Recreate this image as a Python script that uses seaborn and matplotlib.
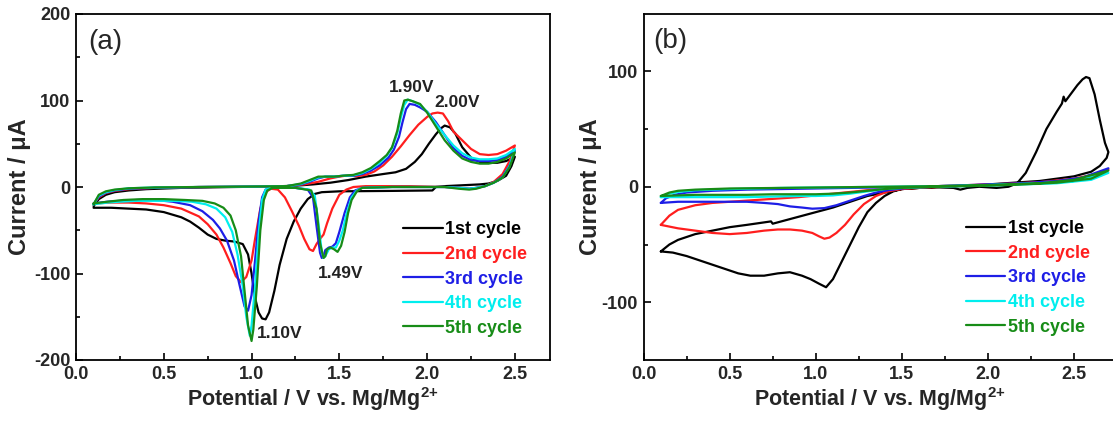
import numpy as np
import matplotlib
matplotlib.use("Agg")
import matplotlib.pyplot as plt
from matplotlib.ticker import FormatStrFormatter
import seaborn as sns

# ---------------- data: panel (a) ----------------
A1_E = [0.10, 0.13, 0.17, 0.22, 0.30, 0.40, 0.60, 0.90, 1.10, 1.25, 1.35, 1.45, 1.55, 1.65, 1.75, 1.82, 1.88, 1.93, 1.97, 2.01, 2.05, 2.08, 2.10, 2.13, 2.16, 2.20, 2.25, 2.30, 2.35, 2.40, 2.45, 2.50,
        2.48, 2.45, 2.40, 2.35, 2.30, 2.20, 2.10, 2.05, 2.03, 1.80, 1.50, 1.40, 1.36, 1.32, 1.28, 1.24, 1.20, 1.16, 1.13, 1.10, 1.08, 1.06, 1.04, 1.02, 1.00, 0.98, 0.95, 0.90, 0.85, 0.80, 0.75, 0.70, 0.65, 0.60, 0.50, 0.40, 0.30, 0.20, 0.10]
A1_I = [-22, -14, -9, -6, -4, -2.5, -1, 0, 0.5, 1.5, 3, 5, 8, 12, 15, 17, 21, 29, 38, 50, 61, 68, 71, 69, 62, 46, 34, 29, 28, 28, 30, 35,
        24, 13, 7, 4, 3, 2, 1, 0, -4, -4.5, -5, -6, -8, -14, -25, -40, -60, -90, -120, -145, -153, -152, -145, -128, -100, -78, -66, -63, -62, -60, -55, -47, -40, -35, -29, -26, -25, -24, -24]

A2_E = [0.10, 0.13, 0.17, 0.22, 0.30, 0.45, 0.70, 1.00, 1.20, 1.30, 1.38, 1.45, 1.50, 1.55, 1.60, 1.65, 1.70, 1.75, 1.80, 1.85, 1.90, 1.95, 2.00, 2.03, 2.06, 2.09, 2.12, 2.15, 2.20, 2.25, 2.30, 2.35, 2.40, 2.45, 2.50,
        2.47, 2.43, 2.38, 2.33, 2.28, 2.24, 2.18, 2.10, 1.90, 1.65, 1.58, 1.54, 1.50, 1.46, 1.43, 1.41, 1.39, 1.37, 1.35, 1.33, 1.30, 1.27, 1.23, 1.19, 1.15, 1.11, 1.08, 1.05, 1.02, 1.00, 0.97, 0.94, 0.91, 0.88, 0.84, 0.80, 0.75, 0.70, 0.60, 0.50, 0.40, 0.30, 0.20, 0.10]
A2_I = [-20, -12, -7, -4.5, -2.5, -1, 0, 0.5, 1, 3, 6, 10, 12, 13.5, 12.5, 14, 18, 25, 35, 47, 60, 72, 81, 85, 86, 85, 76, 64, 54, 44, 38, 37, 38, 42, 48,
        30, 15, 6, 1, -1, -2, -1, 0, 1, 1, 0, -3, -9, -25, -42, -55, -60, -66, -74, -72, -60, -45, -28, -12, -3, -2, -6, -25, -60, -85, -104, -110, -103, -88, -70, -55, -43, -34, -25, -21, -19, -18, -18, -19]

A3_E = [0.10, 0.13, 0.17, 0.22, 0.30, 0.45, 0.70, 1.00, 1.20, 1.28, 1.33, 1.38, 1.42, 1.47, 1.52, 1.58, 1.63, 1.68, 1.73, 1.78, 1.81, 1.84, 1.86, 1.88, 1.90, 1.93, 1.96, 2.00, 2.05, 2.10, 2.15, 2.20, 2.25, 2.30, 2.35, 2.40, 2.45, 2.50,
        2.47, 2.43, 2.38, 2.33, 2.28, 2.24, 2.18, 2.10, 1.80, 1.63, 1.59, 1.56, 1.53, 1.50, 1.48, 1.46, 1.44, 1.42, 1.41, 1.40, 1.39, 1.37, 1.35, 1.32, 1.25, 1.12, 1.08, 1.06, 1.04, 1.02, 1.00, 0.98, 0.96, 0.93, 0.90, 0.86, 0.82, 0.78, 0.72, 0.65, 0.55, 0.45, 0.35, 0.25, 0.18, 0.10]
A3_I = [-20, -11, -6.5, -4, -2, -1, 0, 0.5, 1, 3, 6, 10, 12, 12, 13, 13, 15, 19, 25, 34, 43, 58, 75, 90, 96, 95, 92, 87, 75, 60, 45, 36, 31, 30, 30, 31, 35, 42,
        25, 12, 5, 1, -1, -2, -1, 0, 0, -1, -4, -12, -30, -52, -65, -69, -70, -73, -80, -82, -76, -45, -12, -3, -1, -1, -3, -12, -40, -85, -125, -143, -138, -112, -85, -62, -48, -38, -28, -21, -17, -15, -15, -16, -17, -19]

A4_E = [0.10, 0.13, 0.17, 0.22, 0.30, 0.45, 0.70, 1.00, 1.20, 1.28, 1.33, 1.38, 1.42, 1.47, 1.52, 1.58, 1.63, 1.68, 1.73, 1.77, 1.80, 1.83, 1.85, 1.87, 1.89, 1.92, 1.96, 2.00, 2.05, 2.10, 2.15, 2.20, 2.25, 2.30, 2.35, 2.40, 2.45, 2.50,
        2.47, 2.43, 2.38, 2.33, 2.28, 2.24, 2.18, 2.10, 1.80, 1.63, 1.60, 1.57, 1.54, 1.52, 1.50, 1.48, 1.46, 1.44, 1.42, 1.41, 1.40, 1.38, 1.36, 1.33, 1.25, 1.12, 1.08, 1.06, 1.04, 1.02, 1.00, 0.99, 0.97, 0.95, 0.92, 0.89, 0.85, 0.80, 0.74, 0.66, 0.56, 0.45, 0.35, 0.25, 0.18, 0.10]
A4_I = [-20, -10, -6, -3.5, -1.5, -0.5, 0, 0.5, 1, 3.5, 7, 11, 12, 12, 13, 13.5, 16, 21, 28, 36, 45, 62, 80, 95, 101, 99, 95, 87, 73, 60, 48, 39, 34, 32, 32, 33, 37, 44,
        24, 11, 5, 1, -1, -2, -1, 0, 0, -1, -4, -12, -32, -50, -62, -70, -70, -72, -80, -82, -75, -40, -10, -3, -1, -1, -3, -15, -55, -115, -160, -172, -150, -115, -78, -52, -35, -25, -20, -17, -16, -16, -16, -17, -18, -20]

A5_E = [0.10, 0.13, 0.17, 0.22, 0.30, 0.45, 0.70, 1.00, 1.20, 1.28, 1.33, 1.38, 1.42, 1.47, 1.52, 1.58, 1.63, 1.68, 1.73, 1.77, 1.80, 1.83, 1.85, 1.87, 1.89, 1.92, 1.96, 2.00, 2.05, 2.10, 2.15, 2.20, 2.25, 2.30, 2.35, 2.40, 2.45, 2.50,
        2.47, 2.43, 2.38, 2.33, 2.28, 2.24, 2.18, 2.10, 1.80, 1.63, 1.60, 1.57, 1.55, 1.53, 1.51, 1.49, 1.47, 1.45, 1.43, 1.42, 1.41, 1.39, 1.37, 1.34, 1.25, 1.12, 1.09, 1.07, 1.05, 1.03, 1.01, 1.00, 0.98, 0.96, 0.94, 0.91, 0.88, 0.84, 0.79, 0.72, 0.62, 0.50, 0.38, 0.27, 0.18, 0.10]
A5_I = [-20, -9, -5, -3, -1.5, -0.5, 0, 0.5, 1, 4, 8, 12, 12, 12, 13, 14, 17, 22, 30, 37, 46, 65, 85, 100, 101, 99, 96, 86, 70, 54, 42, 33, 29, 27, 27, 29, 33, 40,
        23, 11, 5, 1, -2, -3, -2, 0, 0, -1, -5, -15, -30, -52, -68, -75, -72, -70, -72, -80, -82, -65, -25, -4, -1, -1, -4, -15, -50, -115, -165, -178, -160, -120, -80, -50, -33, -24, -19, -16, -15, -14, -14, -15, -17, -19]

# ---------------- data: panel (b) ----------------
B1_E = [0.10, 0.15, 0.20, 0.30, 0.40, 0.50, 0.60, 0.74, 0.75, 0.85, 1.00, 1.10, 1.20, 1.30, 1.40, 1.50, 1.60, 1.70, 1.80, 1.84, 1.88, 1.95, 2.05, 2.12, 2.17, 2.22, 2.28, 2.34, 2.40, 2.43, 2.44, 2.45, 2.48, 2.52, 2.55, 2.57, 2.59, 2.62, 2.65, 2.68, 2.70,
        2.69, 2.65, 2.60, 2.50, 2.40, 2.30, 2.20, 2.10, 2.00, 1.80, 1.60, 1.50, 1.45, 1.40, 1.35, 1.30, 1.25, 1.20, 1.15, 1.10, 1.06, 1.02, 0.97, 0.92, 0.85, 0.78, 0.70, 0.62, 0.55, 0.45, 0.35, 0.25, 0.17, 0.10]
B1_I = [-56, -50, -46, -41, -38, -35, -33, -30, -32, -28, -22, -18, -13, -8, -5, -2, -1, -0.5, -1, -2.5, -1, 0, -1, 0, 3, 12, 30, 50, 65, 72, 78, 74, 80, 88, 93, 95, 94, 80, 58, 38, 30,
        25, 18, 13, 9, 7, 5, 4, 3, 2, 0.5, -1, -2, -4, -8, -14, -22, -35, -50, -65, -80, -87, -84, -80, -77, -74, -75, -77, -77, -75, -70, -65, -60, -57, -56]

B2_E = [0.10, 0.15, 0.20, 0.30, 0.40, 0.50, 0.70, 0.90, 1.10, 1.30, 1.50, 1.70, 1.90, 2.10, 2.30, 2.50, 2.60, 2.70,
        2.65, 2.55, 2.40, 2.20, 2.00, 1.80, 1.60, 1.50, 1.42, 1.35, 1.28, 1.22, 1.17, 1.12, 1.08, 1.05, 1.02, 0.98, 0.92, 0.85, 0.78, 0.70, 0.60, 0.50, 0.40, 0.30, 0.20, 0.10]
B2_I = [-33, -25, -20, -16, -14, -13, -11, -9, -6, -3, -1, 0.5, 1.5, 2.5, 4, 7, 10, 15,
        11, 7, 4, 2.5, 1.5, 0.5, -1, -2, -4, -8, -15, -24, -33, -40, -44, -45, -43, -40, -38, -37, -37, -38, -40, -41, -40, -38, -36, -33]

B3_E = [0.10, 0.13, 0.18, 0.25, 0.40, 0.60, 0.80, 1.00, 1.20, 1.40, 1.60, 1.80, 2.00, 2.20, 2.40, 2.55, 2.70,
        2.60, 2.40, 2.20, 2.00, 1.80, 1.60, 1.50, 1.42, 1.35, 1.28, 1.20, 1.12, 1.05, 0.98, 0.92, 0.85, 0.78, 0.70, 0.60, 0.50, 0.40, 0.30, 0.20, 0.10]
B3_I = [-14, -10, -7, -5, -3.5, -2.5, -2, -1.5, -1, -0.5, 0, 1, 2, 3, 5, 8, 16,
        8, 4, 2.5, 1.5, 0.5, -0.5, -1.5, -3, -5, -8, -12, -16, -18.5, -19, -18, -17, -15, -14, -13, -13, -13, -13, -13, -14]

B4_E = [0.10, 0.15, 0.20, 0.30, 0.50, 0.80, 1.10, 1.40, 1.70, 2.00, 2.30, 2.50, 2.70,
        2.60, 2.40, 2.20, 2.00, 1.70, 1.50, 1.40, 1.30, 1.20, 1.10, 1.00, 0.90, 0.75, 0.60, 0.45, 0.30, 0.20, 0.10]
B4_I = [-9, -6, -4.5, -3, -2, -1, -0.5, 0, 0.5, 1.5, 3, 5, 12,
        6, 3, 2, 1, 0, -1, -2, -4, -6, -7.5, -8, -8, -8.5, -9, -9, -9, -9, -9]

B5_E = [0.10, 0.15, 0.20, 0.30, 0.50, 0.80, 1.10, 1.40, 1.70, 2.00, 2.30, 2.50, 2.70,
        2.60, 2.40, 2.20, 2.00, 1.70, 1.50, 1.40, 1.30, 1.20, 1.10, 1.00, 0.90, 0.75, 0.60, 0.45, 0.30, 0.20, 0.10]
B5_I = [-8, -5, -3.5, -2.5, -1.5, -1, -0.5, 0, 0.5, 1.5, 3, 6, 14,
        7, 3.5, 2, 1, 0, -1, -2, -3.5, -5, -6, -6.5, -6.5, -6.5, -7, -7, -7, -7.5, -8]

CYCLE_LABELS = ["1st cycle", "2nd cycle", "3rd cycle", "4th cycle", "5th cycle"]
CYCLE_COLORS = ["#000000", "#ff1e1e", "#1e1ee6", "#00eeee", "#178c17"]
X_TICKS = [0.0, 0.5, 1.0, 1.5, 2.0, 2.5]
A_YTICKS = [-200, -100, 0, 100, 200]
B_YTICKS = [-100, 0, 100]
A_PEAKS = [("1.90V", 1.91, 115), ("2.00V", 2.17, 98), ("1.49V", 1.51, -100), ("1.10V", 1.16, -169)]

# ---------------- style ----------------
sns.set_theme(style="ticks")
plt.rcParams["font.family"] = ["Liberation Sans", "DejaVu Sans"]
plt.rcParams["font.weight"] = "bold"
plt.rcParams["axes.unicode_minus"] = False
plt.rcParams["mathtext.fontset"] = "custom"
plt.rcParams["mathtext.rm"] = "Liberation Sans:bold"
plt.rcParams["mathtext.bf"] = "Liberation Sans:bold"
plt.rcParams["mathtext.it"] = "Liberation Sans:bold"

W, H = 1113, 421
fig = plt.figure(figsize=(W / 100, H / 100), dpi=100)
fig.patch.set_facecolor("white")

ax_a = fig.add_axes([76 / W, 61 / H, 474 / W, 346 / H])
ax_b = fig.add_axes([643.6 / W, 61 / H, 473.4 / W, 346.5 / H])

a_curves = [(A1_E, A1_I), (A2_E, A2_I), (A3_E, A3_I), (A4_E, A4_I), (A5_E, A5_I)]
b_curves = [(B1_E, B1_I), (B2_E, B2_I), (B3_E, B3_I), (B4_E, B4_I), (B5_E, B5_I)]

for ax, curves in ((ax_a, a_curves), (ax_b, b_curves)):
    for (e, i), lab, col in zip(curves, CYCLE_LABELS, CYCLE_COLORS):
        sns.lineplot(x=e, y=i, sort=False, estimator=None, color=col,
                     linewidth=1.6, label=lab, ax=ax)


def style_axes(ax, xlim, ylim, yticks, yminor, ylab_x):
    ax.set_facecolor("white")
    ax.set_xlim(*xlim)
    ax.set_ylim(*ylim)
    ax.set_xticks(X_TICKS)
    ax.set_xticks([0.25, 0.75, 1.25, 1.75, 2.25], minor=True)
    ax.set_yticks(yticks)
    ax.set_yticks(yminor, minor=True)
    ax.xaxis.set_major_formatter(FormatStrFormatter("%.1f"))
    ax.tick_params(which="both", direction="in", top=False, right=False,
                   width=1.2, color="black", labelsize=13, pad=4)
    ax.tick_params(which="major", length=5)
    ax.tick_params(which="minor", length=3)
    for lbl in ax.get_xticklabels() + ax.get_yticklabels():
        lbl.set_fontweight("bold")
    for s in ax.spines.values():
        s.set_linewidth(1.3)
        s.set_color("black")
    ax.set_xlabel(r"Potential / V vs. Mg/Mg$^{2{+}}$", fontsize=15.5, fontweight="bold")
    ax.set_ylabel("Current / \u03bcA", fontsize=17, fontweight="bold")
    ax.xaxis.set_label_coords(0.5, -0.072)
    ax.yaxis.set_label_coords(ylab_x, 0.5)
    ax.grid(False)


style_axes(ax_a, (0, 2.7), (-200, 200), A_YTICKS, [-150, -50, 50, 150], -0.095)
style_axes(ax_b, (0, 2.75), (-150, 150), B_YTICKS, [-50, 50], -0.088)

for txt, x, y in A_PEAKS:
    ax_a.text(x, y, txt, ha="center", va="center", fontsize=12.5, fontweight="bold", color="#222222")

ax_a.text(0.025, 0.958, "(a)", transform=ax_a.transAxes, ha="left", va="top",
          fontsize=20, fontweight="normal")
ax_b.text(0.021, 0.958, "(b)", transform=ax_b.transAxes, ha="left", va="top",
          fontsize=20, fontweight="normal")

for ax, lx, ly in ((ax_a, 0.69, 0.234), (ax_b, 0.68, 0.237)):
    ax.legend(loc="center left", bbox_to_anchor=(lx, ly), frameon=False,
              handlelength=2.2, handletextpad=0.15, labelspacing=0.42,
              borderpad=0, borderaxespad=0,
              prop={"weight": "bold", "size": 13}, labelcolor="linecolor")

fig.savefig("out.png", dpi=100, facecolor="white")
